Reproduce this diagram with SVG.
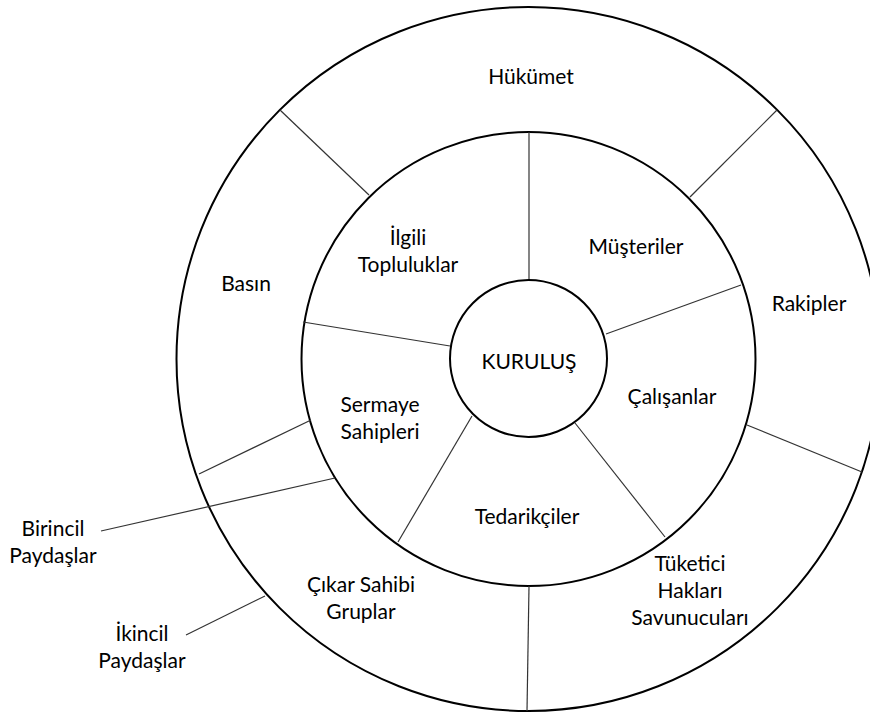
<svg xmlns="http://www.w3.org/2000/svg" width="870" height="715" viewBox="0 0 870 715">
<style>
.ring{fill:none;stroke:#000;stroke-width:2}
.div{stroke:#333;stroke-width:1.2;fill:none}
text{font-family:Lato,"Liberation Sans",sans-serif;font-size:21px;fill:#000;text-anchor:middle}
</style>
<rect width="870" height="715" fill="#fff"/>
<g id="rings">
<circle class="ring" cx="528.5" cy="359" r="352"/>
<circle class="ring" cx="528.5" cy="359" r="227"/>
</g>
<g id="connectors">
<line class="div" x1="529" y1="280" x2="529" y2="132"/>
<line class="div" x1="606" y1="334" x2="741" y2="285"/>
<line class="div" x1="575" y1="423" x2="665" y2="537"/>
<line class="div" x1="472" y1="416" x2="398" y2="542"/>
<line class="div" x1="450" y1="346" x2="303" y2="322"/>
<line class="div" x1="369" y1="195" x2="280" y2="110"/>
<line class="div" x1="690" y1="197" x2="777" y2="110"/>
<line class="div" x1="747" y1="425" x2="862" y2="472"/>
<line class="div" x1="529" y1="586" x2="527" y2="711"/>
<line class="div" x1="311" y1="420" x2="199" y2="474"/>
<line class="div" x1="101" y1="531" x2="335" y2="478"/>
<line class="div" x1="186" y1="635" x2="265" y2="596"/>
</g>
<g id="kurulus">
<circle class="ring" cx="528.5" cy="358.5" r="78.5"/>
<text x="529" y="369">KURULUŞ</text>
</g>
<g id="hukumet"><text x="531" y="84">Hükümet</text></g>
<g id="basin"><text x="246" y="291">Basın</text></g>
<g id="rakipler"><text x="809" y="311">Rakipler</text></g>
<g id="ilgili"><text x="408" y="245">İlgili</text><text x="408" y="272">Topluluklar</text></g>
<g id="musteriler"><text x="636" y="254">Müşteriler</text></g>
<g id="calisanlar"><text x="672" y="404">Çalışanlar</text></g>
<g id="sermaye"><text x="380" y="412">Sermaye</text><text x="380" y="439">Sahipleri</text></g>
<g id="tedarikciler"><text x="527" y="524">Tedarikçiler</text></g>
<g id="tuketici"><text x="690" y="571">Tüketici</text><text x="690" y="598">Hakları</text><text x="690" y="625">Savunucuları</text></g>
<g id="cikar"><text x="361" y="592">Çıkar Sahibi</text><text x="361" y="619">Gruplar</text></g>
<g id="birincil"><text x="53" y="536">Birincil</text><text x="53" y="563">Paydaşlar</text></g>
<g id="ikincil"><text x="142" y="641">İkincil</text><text x="142" y="668">Paydaşlar</text></g>
</svg>
